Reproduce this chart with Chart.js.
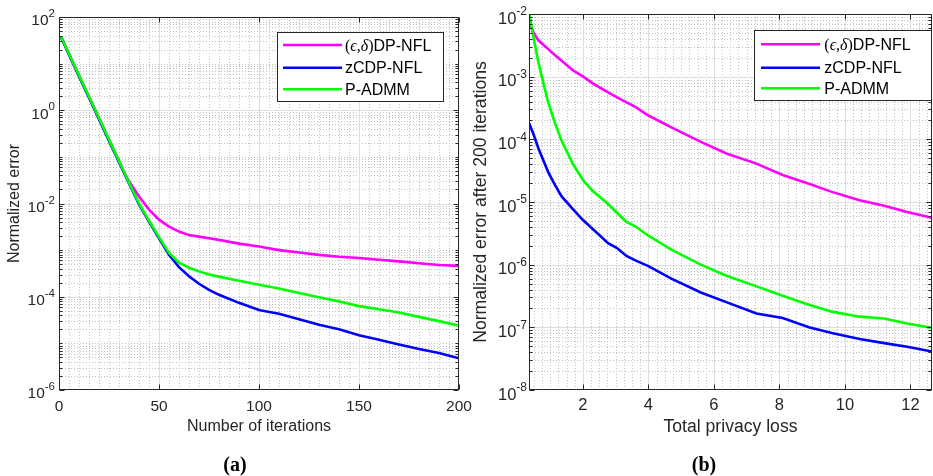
<!DOCTYPE html>
<html><head><meta charset="utf-8">
<script src="https://cdn.jsdelivr.net/npm/chart.js@4"></script>
<style>
html,body{margin:0;padding:0;background:#fff;}
#wrap{position:relative;width:933px;height:476px;overflow:hidden;background:#fff;}
canvas{position:absolute;top:0;}
.cap{position:absolute;top:453px;width:80px;text-align:center;line-height:20px;font:bold 20px 'Liberation Serif','Times New Roman',serif;color:#000;}
</style></head><body>
<div id="wrap">
<canvas id="ca" width="480" height="476" style="left:0"></canvas>
<canvas id="cb" width="467" height="476" style="left:466px"></canvas>
<div class="cap" style="left:195px">(a)</div>
<div class="cap" style="left:664px">(b)</div>
</div>
<script>
// ---------- data ----------
const seriesLabels = ['(\u03f5,\u03b4)DP-NFL', 'zCDP-NFL', 'P-ADMM'];
const seriesColors = ['#ff00ff', '#0000ff', '#00ff00'];

// (a) normalized error vs iterations
const iterations = [1,5,10,15,20,25,30,33,35,40,45,50,55,60,65,70,75,80,90,100,110,120,130,140,150,160,170,180,190,200];
const errA_dp    = [38,16.2,5.6,1.95,0.68,0.234,0.081,0.043,0.030,0.0141,7.4e-3,4.5e-3,3.2e-3,2.5e-3,2.1e-3,1.95e-3,1.8e-3,1.66e-3,1.38e-3,1.2e-3,1.0e-3,8.9e-4,7.9e-4,7.2e-4,6.8e-4,6.2e-4,5.75e-4,5.25e-4,4.8e-4,4.6e-4];
const errA_zcdp  = [37,15.5,5.3,1.85,0.64,0.22,0.077,0.041,0.027,9.6e-3,4.1e-3,1.8e-3,8.0e-4,4.3e-4,2.75e-4,1.9e-4,1.4e-4,1.1e-4,7.4e-5,5.2e-5,4.3e-5,3.3e-5,2.5e-5,2.0e-5,1.5e-5,1.2e-5,9.5e-6,7.6e-6,6.2e-6,4.8e-6];
const errA_padmm = [38,16.2,5.6,1.95,0.68,0.234,0.081,0.043,0.028,0.010,4.3e-3,1.9e-3,8.7e-4,5.4e-4,4.2e-4,3.5e-4,3.0e-4,2.7e-4,2.2e-4,1.8e-4,1.5e-4,1.2e-4,9.8e-5,7.9e-5,6.3e-5,5.4e-5,4.6e-5,3.7e-5,3.0e-5,2.4e-5];
const xTicksA = [0,50,100,150,200];
const yTicksA = [1e2,1e0,1e-2,1e-4,1e-6];

// (b) normalized error after 200 iterations vs total privacy loss
const privacyLoss = [0.36,0.5,0.64,0.8,0.94,1.15,1.35,1.7,2.01,2.3,2.77,3.03,3.33,3.6,4.0,4.7,5.6,6.4,7.3,8.1,8.9,9.6,10.45,11.2,11.9,12.66];
const errB_dp    = [7.1e-3,5.0e-3,3.8e-3,3.2e-3,2.75e-3,2.2e-3,1.8e-3,1.26e-3,1.0e-3,7.8e-4,5.6e-4,4.7e-4,3.9e-4,3.3e-4,2.4e-4,1.55e-4,9.1e-5,5.9e-5,4.1e-5,2.7e-5,1.95e-5,1.45e-5,1.07e-5,8.7e-6,6.9e-6,5.6e-6];
const errB_zcdp  = [1.8e-4,1.17e-4,7.2e-5,4.5e-5,3.0e-5,1.86e-5,1.23e-5,7.6e-6,5.1e-6,3.7e-6,2.2e-6,1.86e-6,1.38e-6,1.17e-6,9.5e-7,6.0e-7,3.6e-7,2.5e-7,1.66e-7,1.41e-7,1.0e-7,8.1e-8,6.5e-8,5.6e-8,4.9e-8,4.1e-8];
const errB_padmm = [1.0e-2,4.0e-3,1.7e-3,7.6e-4,3.9e-4,1.8e-4,9.5e-5,4.0e-5,2.2e-5,1.5e-5,9.3e-6,6.8e-6,4.8e-6,4.1e-6,2.9e-6,1.74e-6,1.0e-6,6.6e-7,4.5e-7,3.2e-7,2.3e-7,1.78e-7,1.48e-7,1.38e-7,1.15e-7,9.8e-8];
const xTicksB = [2,4,6,8,10,12];
const yTicksB = [1e-2,1e-3,1e-4,1e-5,1e-6,1e-7,1e-8];

// ---------- drawing helpers ----------
const AX = '#262626';
const SANS = "'Liberation Sans', Arial, Helvetica, sans-serif";
const SERIF = "'Liberation Serif', 'DejaVu Serif', serif";

function hline(ctx, x0, x1, y){ctx.moveTo(x0,y);ctx.lineTo(x1,y);}
function vline(ctx, x, y0, y1){ctx.moveTo(x,y0);ctx.lineTo(x,y1);}
function near(v, arr){return arr.some(m => Math.abs(m - v) <= Math.abs(m) * 1e-6 + 1e-9);}

function drawRich(ctx, text, x, baseY, size){
  const hasGreek = /[\u0370-\u03ff]/.test(text);
  let cx = x;
  for (const ch of text){
    let f;
    if (/[\u0370-\u03ff]/.test(ch)) f = `italic ${size}px ${SERIF}`;
    else if (hasGreek && '(),'.includes(ch) && cx < x + 40) f = `${size}px ${SERIF}`;
    else f = `${size}px ${SANS}`;
    ctx.font = f;
    ctx.fillText(ch, cx, baseY);
    cx += ctx.measureText(ch).width;
  }
}

const matlabAxes = {
  id: 'matlabAxes',
  beforeDatasetsDraw(chart, args, o){
    const {ctx, chartArea: a} = chart;
    const xs = chart.scales.x, ys = chart.scales.y;
    ctx.save();
    ctx.lineWidth = 1;
    ctx.strokeStyle = o.minorColor;
    ctx.setLineDash([1,2]);
    ctx.beginPath();
    const start = Math.ceil(xs.min / o.xMinorStep - 1e-9) * o.xMinorStep;
    for (let v = start; v <= xs.max + 1e-9; v += o.xMinorStep){
      if (near(v, o.xMajor)) continue;
      const px = Math.round(xs.getPixelForValue(v)) + 0.5;
      if (px <= a.left + 1 || px >= a.right - 1) continue;
      vline(ctx, px, a.top, a.bottom);
    }
    const k0 = Math.floor(Math.log10(ys.min)), k1 = Math.ceil(Math.log10(ys.max));
    for (let k = k0; k < k1; k++){
      for (let m = 1; m <= 9; m++){
        const v = m * Math.pow(10, k);
        if (near(v, o.yMajor)) continue;
        const py = Math.round(ys.getPixelForValue(v)) + 0.5;
        if (py <= a.top + 1 || py >= a.bottom - 1) continue;
        hline(ctx, a.left, a.right, py);
      }
    }
    ctx.stroke();
    ctx.setLineDash([]);
    ctx.strokeStyle = o.majorColor;
    ctx.beginPath();
    for (const v of o.xMajor){
      const px = Math.round(xs.getPixelForValue(v)) + 0.5;
      if (px <= a.left + 1 || px >= a.right - 1) continue;
      vline(ctx, px, a.top, a.bottom);
    }
    for (const v of o.yMajor){
      const py = Math.round(ys.getPixelForValue(v)) + 0.5;
      if (py <= a.top + 1 || py >= a.bottom - 1) continue;
      hline(ctx, a.left, a.right, py);
    }
    ctx.stroke();
    ctx.restore();
  },
  afterDatasetsDraw(chart, args, o){
    const {ctx, chartArea: a} = chart;
    const xs = chart.scales.x, ys = chart.scales.y;
    ctx.save();
    const L = Math.round(a.left) + 0.5, R = Math.round(a.right) - 0.5;
    const T = Math.round(a.top) + 0.5, B = Math.round(a.bottom) - 0.5;
    ctx.strokeStyle = AX; ctx.lineWidth = 1;
    ctx.strokeRect(L, T, R - L, B - T);
    ctx.beginPath();
    for (const v of o.xMajor){
      const px = Math.round(xs.getPixelForValue(v)) + 0.5;
      vline(ctx, px, B, B - 5); vline(ctx, px, T, T + 5);
    }
    const k0 = Math.floor(Math.log10(ys.min)), k1 = Math.ceil(Math.log10(ys.max));
    for (let k = k0; k <= k1; k++){
      for (let m = 1; m <= 9; m++){
        const v = m * Math.pow(10, k);
        if (v < ys.min * 0.999 || v > ys.max * 1.001) continue;
        const len = near(v, o.yMajor) ? 5 : 3;
        const py = Math.round(ys.getPixelForValue(v)) + 0.5;
        hline(ctx, L, L + len, py); hline(ctx, R, R - len, py);
      }
    }
    ctx.stroke();
    ctx.fillStyle = AX;
    ctx.textBaseline = 'middle';
    ctx.textAlign = 'left';
    for (const v of o.yMajor){
      const py = ys.getPixelForValue(v);
      const e = String(Math.round(Math.log10(v)));
      ctx.font = `${o.expSize}px ${SANS}`;
      const ew = ctx.measureText(e).width;
      ctx.font = `${o.tickSize}px ${SANS}`;
      const bw = ctx.measureText('10').width;
      const xr = a.left - o.labelGap;
      ctx.fillText('10', xr - ew - bw, py + o.baseDy);
      ctx.font = `${o.expSize}px ${SANS}`;
      ctx.fillText(e, xr - ew, py + o.expDy);
    }
    const lg = o.legend;
    ctx.fillStyle = '#fff';
    ctx.fillRect(lg.x, lg.y, lg.w, lg.h);
    ctx.strokeStyle = AX; ctx.lineWidth = 1;
    ctx.strokeRect(Math.round(lg.x) + 0.5, Math.round(lg.y) + 0.5, Math.round(lg.w), Math.round(lg.h));
    ctx.textBaseline = 'alphabetic';
    chart.data.datasets.forEach((ds, i) => {
      const ry = lg.rows[i];
      ctx.strokeStyle = ds.borderColor; ctx.lineWidth = ds.borderWidth;
      ctx.beginPath(); hline(ctx, lg.x0, lg.x1, ry); ctx.stroke();
      ctx.fillStyle = '#000';
      drawRich(ctx, ds.label, lg.tx, ry + 0.36 * lg.size, lg.size);
    });
    ctx.restore();
  }
};

function makeChart(id, p){
  const sets = [p.s1, p.s2, p.s3].map((vals, i) => ({
    label: seriesLabels[i],
    data: p.xv.map((x, j) => ({x: x, y: vals[j]})),
    borderColor: seriesColors[i],
    backgroundColor: seriesColors[i],
    borderWidth: 2.6,
    pointRadius: 0,
    tension: 0,
    fill: false,
    order: 3 - i
  }));
  return new Chart(document.getElementById(id), {
    type: 'line',
    data: {datasets: sets},
    plugins: [matlabAxes],
    options: {
      responsive: false,
      animation: false,
      devicePixelRatio: 1,
      layout: {padding: p.pad},
      plugins: {
        legend: {display: false},
        tooltip: {enabled: false},
        matlabAxes: p.axes
      },
      scales: {
        x: {
          type: 'linear', min: p.xmin, max: p.xmax,
          afterBuildTicks: s => { s.ticks = p.xTicks.map(v => ({value: v})); },
          afterFit: s => { s.height = p.xh; s.paddingLeft = 0; s.paddingRight = 0; },
          grid: {display: false, drawTicks: false},
          border: {display: false},
          ticks: {color: AX, font: {family: SANS, size: p.tickSize}, padding: p.xTickPad, maxRotation: 0, autoSkip: false},
          title: {display: true, text: p.xTitle, color: AX, font: {family: SANS, size: p.titleSize}, padding: {top: 0, bottom: 0}}
        },
        y: {
          type: 'logarithmic', min: p.ymin, max: p.ymax,
          afterFit: s => { s.width = p.yWidth; s.paddingTop = 0; s.paddingBottom = 0; },
          grid: {display: false, drawTicks: false},
          border: {display: false},
          ticks: {display: false},
          title: {display: true, text: p.yTitle, color: AX, font: {family: SANS, size: p.titleSize}, padding: {top: p.yTitlePad, bottom: 0}}
        }
      }
    }
  });
}

makeChart('ca', {
  xv: iterations, s1: errA_dp, s2: errA_zcdp, s3: errA_padmm,
  xmin: 0, xmax: 200, ymin: 1e-6, ymax: 1e2, xTicks: xTicksA,
  pad: {left: 0, right: 21, top: 17, bottom: 40}, yWidth: 59, xh: 46,
  tickSize: 15.5, titleSize: 16, xTickPad: 7, yTitlePad: 5.4,
  xTitle: 'Number of iterations', yTitle: 'Normalized error',
  axes: {
    xMajor: xTicksA, yMajor: yTicksA, xMinorStep: 5,
    minorColor: '#c2c2c2', majorColor: '#dedede',
    tickSize: 15.5, expSize: 11.5, labelGap: 4, baseDy: 4, expDy: -3,
    legend: {x: 277, y: 32, w: 166, h: 69, rows: [45, 67.7, 89.3], x0: 283, x1: 342, tx: 345, size: 16}
  }
});

makeChart('cb', {
  xv: privacyLoss, s1: errB_dp, s2: errB_zcdp, s3: errB_padmm,
  xmin: 0.354, xmax: 12.66, ymin: 1e-8, ymax: 1e-2, xTicks: xTicksB,
  pad: {left: 0, right: 1, top: 14, bottom: 38.4}, yWidth: 63, xh: 47.6,
  tickSize: 16.5, titleSize: 17.6, xTickPad: 6, yTitlePad: 5,
  xTitle: 'Total privacy loss', yTitle: 'Normalized error after 200 iterations',
  axes: {
    xMajor: xTicksB, yMajor: yTicksB, xMinorStep: 0.25,
    minorColor: '#c2c2c2', majorColor: '#dedede',
    tickSize: 16.5, expSize: 12, labelGap: 2, baseDy: 5, expDy: -2,
    legend: {x: 288.3, y: 30, w: 177, h: 70, rows: [44.3, 67.7, 88.3], x0: 295, x1: 354, tx: 358.3, size: 16}
  }
});
</script>
</body></html>
